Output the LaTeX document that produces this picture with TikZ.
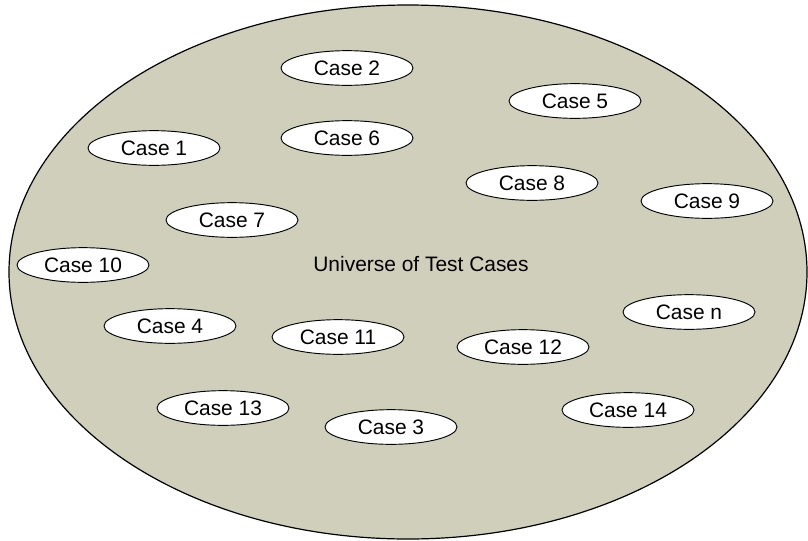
\documentclass[tikz,border=0pt]{standalone}
\usepackage{fontspec}
\setmainfont{Liberation Sans}
\usetikzlibrary{shapes.geometric}
\definecolor{univfill}{RGB}{208,207,188}

\begin{document}
\begin{tikzpicture}[x=0.75pt,y=-0.75pt,
    testcase/.style={draw=black, fill=white, ellipse, line width=0.7pt,
      inner sep=0pt, minimum width=99pt, minimum height=26pt,
      font=\fontsize{15.7}{19}\selectfont}]
        \useasboundingbox (0,0) rectangle (808,540);
        %
        \draw [fill=univfill, line width=0.9pt] (408,272) ellipse [x radius=399, y radius=267];
        \node [font=\fontsize{15.7}{19}\selectfont] (univ) at (421,264) {Universe of Test Cases};
        %
        \node [testcase] (c2) at (347,68) {Case 2};
        \node [testcase] (c5) at (575,101) {Case 5};
        \node [testcase] (c1) at (154,148) {Case 1};
        \node [testcase] (c6) at (347,138) {Case 6};
        \node [testcase] (c8) at (532,183) {Case 8};
        \node [testcase] (c9) at (707,201) {Case 9};
        \node [testcase] (c7) at (232,220) {Case 7};
        \node [testcase] (c10) at (83,265) {Case 10};
        \node [testcase] (cn) at (689,312) {Case n};
        \node [testcase] (c4) at (170,326) {Case 4};
        \node [testcase] (c11) at (338,337) {Case 11};
        \node [testcase] (c12) at (523,347) {Case 12};
        \node [testcase] (c13) at (223,408) {Case 13};
        \node [testcase] (c3) at (391,427) {Case 3};
        \node [testcase] (c14) at (628,410) {Case 14};
      \end{tikzpicture}
\end{document}
